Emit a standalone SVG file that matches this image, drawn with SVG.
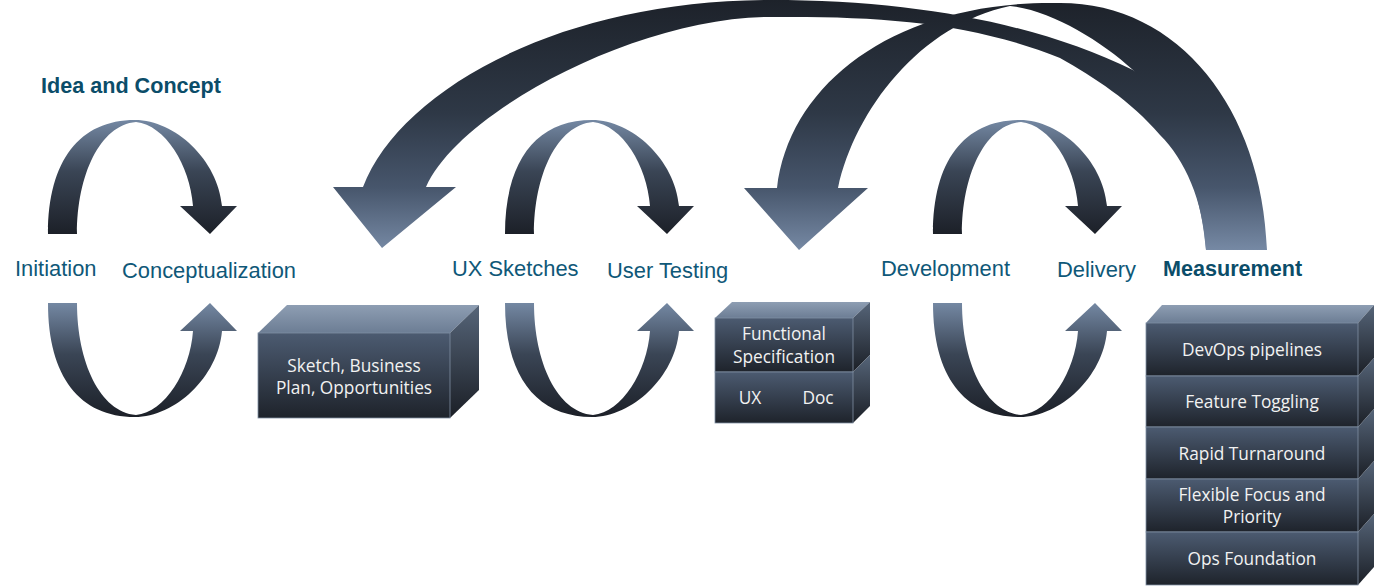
<svg xmlns="http://www.w3.org/2000/svg" width="1375" height="586" viewBox="0 0 1375 586">
<defs>
<linearGradient id="gBig" gradientUnits="userSpaceOnUse" x1="0" y1="0" x2="0" y2="250">
<stop offset="0" stop-color="#1d222a"/>
<stop offset="0.45" stop-color="#2e3846"/>
<stop offset="0.75" stop-color="#47566c"/>
<stop offset="1" stop-color="#7689a4"/>
</linearGradient>
<linearGradient id="gLoop" x1="0" y1="0" x2="0" y2="1">
<stop offset="0" stop-color="#7488a3"/>
<stop offset="0.45" stop-color="#3a4555"/>
<stop offset="1" stop-color="#1c2028"/>
</linearGradient>
<linearGradient id="gTop" x1="0" y1="0" x2="0" y2="1">
<stop offset="0" stop-color="#8e9eb3"/>
<stop offset="1" stop-color="#6c7d94"/>
</linearGradient>
<linearGradient id="gFront" x1="0" y1="0" x2="0" y2="1">
<stop offset="0" stop-color="#4c5b71"/>
<stop offset="1" stop-color="#1e232b"/>
</linearGradient>
<linearGradient id="gSide" x1="0" y1="0" x2="0" y2="1">
<stop offset="0" stop-color="#566579"/>
<stop offset="1" stop-color="#1b1f26"/>
</linearGradient>
<path id="loopTop" d="M48,234 C48,160 80,120 135,120 C175,120 218,160 222,206 L237,206 L210,234 L180,206 L193,206 C190,165 165,125 136,122 C100,125 77,175 77,234 Z"/>
<path id="loopBot" d="M48,303 C48,377 80,417 135,417 C175,417 218,377 222,331 L237,331 L210,303 L180,331 L193,331 C190,372 165,412 136,415 C100,412 77,362 77,303 Z"/>
</defs>
<style>
.lbl{font-family:"Liberation Sans",Arial,sans-serif;font-size:21.9px;fill:#0f5878}
.hdr{font-weight:bold;fill:#0b4d69;font-size:21.6px}
.bx{font-family:"Open Sans","Noto Sans",sans-serif;font-size:17.3px;fill:#f2f2f2;text-anchor:middle}
.top{fill:url(#gTop)}
.front{fill:url(#gFront);stroke:#7f8fa4;stroke-width:0.8}
.side{fill:url(#gSide)}
.loop{fill:url(#gLoop)}
.big{fill:url(#gBig)}
</style>

<g id="connectors">
<path class="big" d="M363,187 C400,90 560,0 770,0 C920,0 1040,25 1133,70 L1230,140 L1255,250 L1206,250 C1203,200 1185,160 1160,135 C1130,100 1095,78 1060,58 C970,22 880,16 770,17 C640,17 460,110 426,187 L456,187 L382,248 L333,187 Z"/>
<path class="big" d="M1267,250 C1262,110 1180,3 1060,3 C900,0 790,80 777,188 L744,188 L799,250 L868,188 L838,188 C855,110 920,25 1010,6 C1050,10 1100,40 1133,70 C1160,100 1200,170 1206,250 Z"/>
<g class="loop">
<use href="#loopTop"/>
<use href="#loopBot"/>
<use href="#loopTop" transform="translate(457,0)"/>
<use href="#loopBot" transform="translate(457,0)"/>
<use href="#loopTop" transform="translate(885,0)"/>
<use href="#loopBot" transform="translate(885,0)"/>
</g>
</g>

<g id="idea-concept"><text class="lbl hdr" x="41" y="93">Idea and Concept</text></g>
<g id="initiation"><text class="lbl" x="15" y="276">Initiation</text></g>
<g id="conceptualization"><text class="lbl" x="122" y="278">Conceptualization</text></g>
<g id="ux-sketches"><text class="lbl" x="452" y="276">UX Sketches</text></g>
<g id="user-testing"><text class="lbl" x="607" y="278">User Testing</text></g>
<g id="development"><text class="lbl" x="881" y="276">Development</text></g>
<g id="delivery"><text class="lbl" x="1057" y="277">Delivery</text></g>
<g id="measurement"><text class="lbl hdr" x="1163" y="276">Measurement</text></g>

<g id="box-sketch">
<polygon class="top" points="258,333 450,333 479,305 287,305"/>
<polygon class="side" points="450,333 479,305 479,390 450,418"/>
<rect class="front" x="258" y="333" width="192" height="85"/>
<text class="bx" x="354" y="372">Sketch, Business</text>
<text class="bx" x="354" y="394">Plan, Opportunities</text>
</g>

<g id="box-functional">
<polygon class="top" points="715,318 853,318 870,302 732,302"/>
<polygon class="side" points="853,318 870,302 870,355 853,372"/>
<polygon class="side" points="853,372 870,355 870,406 853,423"/>
<rect class="front" x="715" y="318" width="138" height="54"/>
<rect class="front" x="715" y="372" width="138" height="51"/>
<text class="bx" x="784" y="340">Functional</text>
<text class="bx" x="784" y="363">Specification</text>
<text class="bx" x="750" y="404">UX</text>
<text class="bx" x="818" y="404">Doc</text>
</g>

<g id="box-measurement">
<polygon class="top" points="1146,323 1358,323 1374,305 1162,305"/>
<polygon class="side" points="1358,323 1374,305 1374,358 1358,376"/>
<polygon class="side" points="1358,376 1374,358 1374,409 1358,427"/>
<polygon class="side" points="1358,427 1374,409 1374,461 1358,479"/>
<polygon class="side" points="1358,479 1374,461 1374,514 1358,532"/>
<polygon class="side" points="1358,532 1374,514 1374,567 1358,585"/>
<rect class="front" x="1146" y="323" width="212" height="53"/>
<rect class="front" x="1146" y="376" width="212" height="51"/>
<rect class="front" x="1146" y="427" width="212" height="52"/>
<rect class="front" x="1146" y="479" width="212" height="53"/>
<rect class="front" x="1146" y="532" width="212" height="53"/>
<text class="bx" x="1252" y="356">DevOps pipelines</text>
<text class="bx" x="1252" y="408">Feature Toggling</text>
<text class="bx" x="1252" y="460">Rapid Turnaround</text>
<text class="bx" x="1252" y="501">Flexible Focus and</text>
<text class="bx" x="1252" y="523">Priority</text>
<text class="bx" x="1252" y="565">Ops Foundation</text>
</g>
</svg>
